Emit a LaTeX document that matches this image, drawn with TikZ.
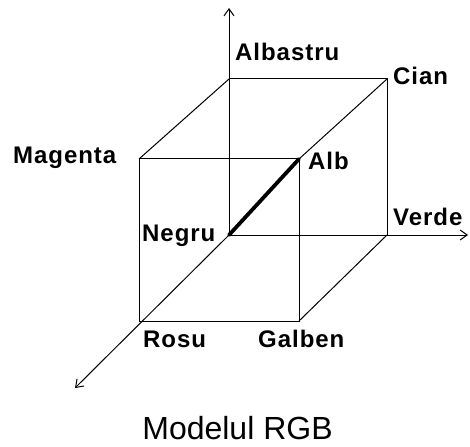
\documentclass[tikz,border=0pt]{standalone}
\usepackage{fontspec}
\setmainfont{Liberation Sans}
\newfontfamily\labfont[LetterSpace=4]{Liberation Sans}
\usetikzlibrary{arrows.meta}
\begin{document}
\begin{tikzpicture}[x=1pt,y=-1pt,
  edge/.style={line width=1pt,black},
  axis/.style={line width=1pt,black,-{Straight Barb[length=7pt,width=10pt]}},
  diag/.style={line width=3.8pt,black,line cap=round},
  lab/.style={inner sep=0pt,anchor=base west,font=\labfont\bfseries\fontsize{24}{24}\selectfont},
  title/.style={inner sep=0pt,anchor=base,font=\fontsize{32}{32}\selectfont}]
\useasboundingbox (0,0) rectangle (470,446);
% corners
\coordinate (N) at (229,235);
\coordinate (B) at (229,79);
\coordinate (C) at (387,79);
\coordinate (V) at (387,235);
\coordinate (M) at (139,159);
\coordinate (A) at (299,159);
\coordinate (G) at (299,321);
\coordinate (R) at (139,321);
% axis tips
\coordinate (tB) at (229,8);
\coordinate (tV) at (468,235);
\coordinate (tR) at (75,388);
% axes
\draw[axis] (N) -- (tB);
\draw[axis] (N) -- (tV);
\draw[axis] (N) -- (tR);
% back face
\draw[edge] (B) -- (C) -- (V);
% front face
\draw[edge] (M) -- (A) -- (G) -- (R) -- cycle;
% depth edges
\draw[edge] (B) -- (M);
\draw[edge] (C) -- (A);
\draw[edge] (V) -- (G);
% diagonal
\draw[diag] (N) -- (A);
% labels
\node[lab] (lB) at (235,61) {Albastru};
\node[lab] (lC) at (393,85) {Cian};
\node[lab] (lM) at (13,164) {Magenta};
\node[lab] (lA) at (308,170) {Alb};
\node[lab] (lV) at (393,225) {Verde};
\node[lab] (lN) at (142,241) {Negru};
\node[lab] (lR) at (143,347) {Rosu};
\node[lab] (lG) at (258,347) {Galben};
\node[title] (t) at (237.5,439.5) {Modelul RGB};
\end{tikzpicture}
\end{document}
